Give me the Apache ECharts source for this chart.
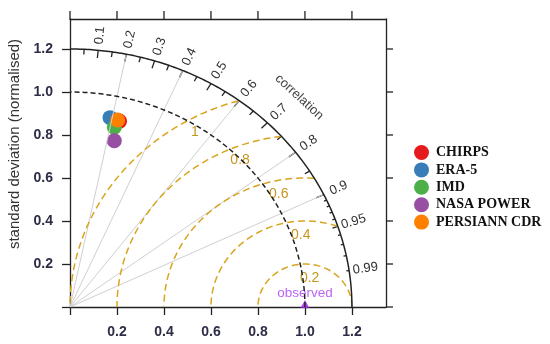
<!DOCTYPE html>
<html>
<head>
<meta charset="utf-8">
<script src="https://cdn.jsdelivr.net/npm/echarts@6/dist/echarts.min.js"></script>
<style>html,body{margin:0;padding:0;background:#fff}#c{width:550px;height:344px}</style>
</head>
<body>
<div id="c"></div>
<script>
// ---- data ----
const modelNames = ['CHIRPS', 'ERA-5', 'IMD', 'NASA POWER', 'PERSIANN CDR'];
const sdValues = [0.890, 0.897, 0.857, 0.796, 0.893];      // normalised standard deviation
const corValues = [0.237, 0.190, 0.220, 0.237, 0.227];     // correlation
const modelColors = ['#E41A1C', '#377EB8', '#4DAF4A', '#984EA3', '#FF7F00'];
const axisTicks = [0, 0.2, 0.4, 0.6, 0.8, 1.0, 1.2];
const axisTickLabels = [0.2, 0.4, 0.6, 0.8, 1.0, 1.2];
const corrMajor = [0.1, 0.2, 0.3, 0.4, 0.5, 0.6, 0.7, 0.8, 0.9];
const corrMed = [0.05, 0.15, 0.25, 0.35, 0.45, 0.55, 0.65, 0.75, 0.85, 0.95];
const corrSmall = [0.91, 0.92, 0.93, 0.94, 0.96, 0.97, 0.98, 0.99];
const corrLabels = ['0.1', '0.2', '0.3', '0.4', '0.5', '0.6', '0.7', '0.8', '0.9', '0.95', '0.99'];
const corrLines = [0.2, 0.4, 0.6, 0.8, 0.9];
const rmsLevels = [0.2, 0.4, 0.6, 0.8, 1.0];
const rmsLabels = ['0.2', '0.4', '0.6', '0.8', '1'];
const maxSd = 1.2;
const obsSd = 1.0;

// ---- layout ----
const X_MAX = 1.345, Y_MAX = 1.3395;

// ---- geometry helpers ----
function arcPts(r) {
  const p = [];
  for (let i = 0; i <= 180; i++) { const t = i / 180 * Math.PI / 2; p.push([r * Math.cos(t), r * Math.sin(t)]); }
  return p;
}
function rmsArc(R) {
  const p = [];
  for (let i = 0; i <= 720; i++) {
    const t = i / 720 * Math.PI;
    const x = obsSd + R * Math.cos(t), y = R * Math.sin(t);
    if (Math.hypot(x, y) <= maxSd + 1e-9 && x >= -1e-9) p.push([x, y]); else if (p.length) p.push(['-', '-']);
  }
  return p;
}
const rmsLabelAngles = [81.6, 93, 102, 112, 120];

const series = [];
corrLines.forEach(c => {
  series.push({type: 'line', silent: true, symbol: 'none', animation: false,
    lineStyle: {color: '#cfcfcf', width: 1}, data: [[0, 0], [maxSd * c, maxSd * Math.sqrt(1 - c * c)]]});
});
rmsLevels.forEach(R => {
  series.push({type: 'line', silent: true, symbol: 'none', animation: false, connectNulls: false,
    lineStyle: {color: '#D9A520', width: 1.5, type: [7, 4]}, data: rmsArc(R)});
});
series.push({type: 'line', silent: true, symbol: 'none', animation: false,
  lineStyle: {color: '#222', width: 1.5, type: [5, 3]}, data: arcPts(obsSd)});
series.push({type: 'line', silent: true, symbol: 'none', animation: false,
  lineStyle: {color: '#222', width: 1.5}, data: arcPts(maxSd)});

// top and right box ticks
series.push({type: 'custom', silent: true, animation: false, clip: false, data: axisTicks.map(v => [v]),
  renderItem: function (params, api) {
    const v = api.value(0);
    const t = api.coord([v, Y_MAX]);
    const r = api.coord([X_MAX, v]);
    const st = {stroke: '#222', lineWidth: 1.3};
    return {type: 'group', children: [
      {type: 'line', shape: {x1: t[0], y1: t[1], x2: t[0], y2: t[1] - 8}, style: st},
      {type: 'line', shape: {x1: r[0], y1: r[1], x2: r[0] + 7, y2: r[1]}, style: st}
    ]};
  }});

// correlation ticks
const tickData = [];
corrMajor.forEach(c => tickData.push([c, 0.03]));
corrMed.forEach(c => tickData.push([c, 0.02]));
corrSmall.forEach(c => tickData.push([c, 0.01]));
series.push({type: 'custom', silent: true, animation: false, clip: false, data: tickData,
  renderItem: function (params, api) {
    const c = api.value(0), k = api.value(1), s = Math.sqrt(1 - c * c);
    const a = api.coord([maxSd * c, maxSd * s]);
    const b = api.coord([maxSd * (1 - k) * c, maxSd * (1 - k) * s]);
    return {type: 'line', shape: {x1: a[0], y1: a[1], x2: b[0], y2: b[1]}, style: {stroke: '#222', lineWidth: 1.3}};
  }});
// correlation labels
series.push({type: 'custom', silent: true, animation: false, clip: false,
  data: corrLabels.map(l => [parseFloat(l), l]),
  renderItem: function (params, api) {
    const c = api.value(0), s = Math.sqrt(1 - c * c);
    const o = api.coord([0, 0]);
    const d = api.coord([c, s]);
    const rot = Math.atan2(-(d[1] - o[1]), d[0] - o[0]);
    const p = api.coord([1.27 * c, 1.27 * s]);
    return {type: 'text', x: p[0], y: p[1], rotation: rot,
      style: {text: corrLabels[params.dataIndex], x: 0, y: 0, align: 'center', verticalAlign: 'middle',
        fill: '#333', font: '13px "Liberation Sans", Arial, sans-serif'}};
  }});
// "correlation" caption
series.push({type: 'custom', silent: true, animation: false, clip: false, data: [[45]],
  renderItem: function (params, api) {
    const t = api.value(0) * Math.PI / 180, r = 1.38;
    const p = api.coord([r * Math.cos(t), r * Math.sin(t)]);
    const q = api.coord([r * Math.cos(t - 0.01), r * Math.sin(t - 0.01)]);
    const rot = Math.atan2(-(q[1] - p[1]), q[0] - p[0]);
    return {type: 'text', x: p[0], y: p[1], rotation: rot,
      style: {text: 'correlation', x: 0, y: 0, align: 'center', verticalAlign: 'middle',
        fill: '#444', font: '13px "Liberation Sans", Arial, sans-serif'}};
  }});
// rms labels
series.push({type: 'custom', silent: true, animation: false, clip: false,
  data: rmsLevels.map((R, i) => [R, rmsLabelAngles[i]]),
  renderItem: function (params, api) {
    const R = api.value(0), t = api.value(1) * Math.PI / 180, rr = R - 0.063;
    const p = api.coord([obsSd + rr * Math.cos(t), rr * Math.sin(t)]);
    return {type: 'text', x: p[0], y: p[1],
      style: {text: rmsLabels[params.dataIndex], x: 0, y: 0, align: 'center', verticalAlign: 'middle',
        fill: '#C8961E', font: '14px "Liberation Sans", Arial, sans-serif'}};
  }});
// observed point
series.push({type: 'scatter', silent: true, animation: false, symbol: 'triangle', symbolSize: [9, 8], symbolOffset: [0, -3],
  itemStyle: {color: '#A020F0'}, data: [[obsSd, 0]],
  label: {show: true, position: 'top', distance: 0, formatter: 'observed', color: '#A83CF0',
    fontSize: 13.5, fontFamily: '"Liberation Sans", Arial, sans-serif'}});
// model points
modelNames.forEach((n, i) => {
  const c = corValues[i], s = sdValues[i];
  series.push({name: n, type: 'scatter', animation: false, symbol: 'circle', symbolSize: 15,
    itemStyle: {color: modelColors[i], opacity: 1}, data: [[s * c, s * Math.sqrt(1 - c * c)]]});
});

const font = '"Liberation Sans", Arial, sans-serif';
const axisLineStyle = {color: '#222', width: 1.3};
const option = {
  backgroundColor: '#fff',
  animation: false,
  grid: {left: 70, right: 164, top: 19, bottom: 37},
  legend: {data: modelNames, orient: 'vertical', left: 409, top: 140, itemWidth: 15, itemHeight: 15, itemGap: 2.4,
    icon: 'circle', textStyle: {fontFamily: '"Liberation Serif", "Times New Roman", serif', fontWeight: 'bold',
      fontSize: 14, color: '#111', lineHeight: 15, padding: [0, 0, 0, 2]}},
  xAxis: [
    {type: 'value', min: 0, max: X_MAX, position: 'bottom', splitLine: {show: false},
      axisLine: {show: true, onZero: false, lineStyle: axisLineStyle},
      axisTick: {show: true, customValues: axisTicks, length: 8, lineStyle: axisLineStyle},
      axisLabel: {customValues: axisTickLabels, margin: 18, formatter: v => v.toFixed(1), color: '#2d2d45',
        fontSize: 14, fontWeight: 'bold', fontFamily: font}},
    {type: 'value', min: 0, max: X_MAX, position: 'top', splitLine: {show: false},
      axisLine: {show: true, onZero: false, lineStyle: axisLineStyle},
      axisTick: {show: false}, axisLabel: {show: false}}
  ],
  yAxis: [
    {type: 'value', min: 0, max: Y_MAX, position: 'left', splitLine: {show: false},
      axisLine: {show: true, onZero: false, lineStyle: axisLineStyle},
      axisTick: {show: true, customValues: axisTicks, length: 8, lineStyle: axisLineStyle},
      axisLabel: {customValues: axisTickLabels, margin: 17, formatter: v => v.toFixed(1), color: '#2d2d45',
        fontSize: 14, fontWeight: 'bold', fontFamily: font}},
    {type: 'value', min: 0, max: Y_MAX, position: 'right', splitLine: {show: false},
      axisLine: {show: true, onZero: false, lineStyle: axisLineStyle},
      axisTick: {show: false}, axisLabel: {show: false}}
  ],
  graphic: [{type: 'text', x: 15, y: 144, rotation: Math.PI / 2,
    style: {text: 'standard deviation (normalised)', x: 0, y: 0, align: 'center', verticalAlign: 'middle',
      fill: '#333', font: '15px "Liberation Sans", Arial, sans-serif'}}],
  series: series
};
const chart = echarts.init(document.getElementById('c'), null, {renderer: 'canvas'});
chart.setOption(option);
</script>
</body>
</html>
